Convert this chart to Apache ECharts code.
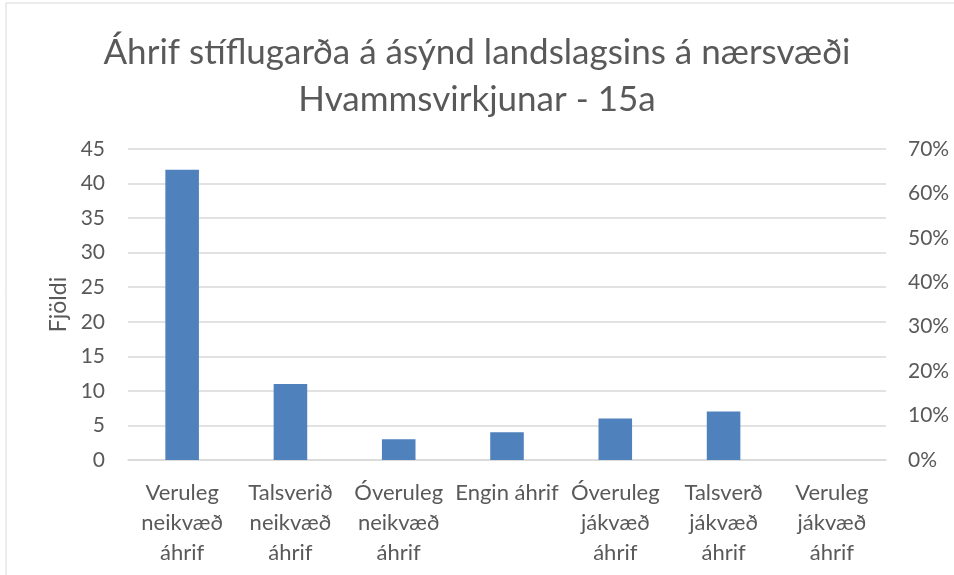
<!DOCTYPE html>
<html><head><meta charset="utf-8">
<script src="https://cdn.jsdelivr.net/npm/echarts@6/dist/echarts.min.js"></script>
<style>html,body{margin:0;padding:0;background:#fff;}#c{width:954px;height:575px;}</style>
</head><body><div id="c"></div>
<script>
const titleText = 'Áhrif stíflugarða á ásýnd landslagsins á nærsvæði\nHvammsvirkjunar - 15a';
const categories = ['Veruleg\nneikvæð\náhrif','Talsverið\nneikvæð\náhrif','Óveruleg\nneikvæð\náhrif','Engin áhrif','Óveruleg\njákvæð\náhrif','Talsverð\njákvæð\náhrif','Veruleg\njákvæð\náhrif'];
const counts = [42, 11, 3, 4, 6, 7, 0];
const yAxisName = 'Fjöldi';
const font = 'Lato';
const chart = echarts.init(document.getElementById('c'));
chart.setOption({
  animation:false,
  backgroundColor:'#fff',
  graphic:[{type:'rect',shape:{x:6,y:3,width:1000,height:1000},style:{fill:'none',stroke:'#d9d9d9',lineWidth:1},silent:true}],
  title:{text:titleText,left:'center',top:24,textStyle:{fontFamily:font,fontSize:35,fontWeight:'normal',color:'#595959',lineHeight:47}},
  grid:{left:128,right:68,top:149,bottom:115},
  xAxis:{type:'category',data:categories,axisTick:{show:false},
    axisLine:{lineStyle:{color:'#d9d9d9',width:1.5}},
    axisLabel:{interval:0,color:'#595959',fontFamily:font,fontSize:22,lineHeight:30,margin:18}},
  yAxis:[
    {type:'value',min:0,max:45,interval:5,name:yAxisName,nameLocation:'middle',nameGap:58,
     nameTextStyle:{color:'#595959',fontFamily:font,fontSize:23},
     axisLabel:{color:'#595959',fontFamily:font,fontSize:21,margin:23},
     splitLine:{lineStyle:{color:'#d9d9d9',width:1.5}},axisLine:{show:false},axisTick:{show:false}},
    {type:'value',min:0,max:0.7,interval:0.1,position:'right',
     axisLabel:{color:'#595959',fontFamily:font,fontSize:21,margin:22,formatter:v=>Math.round(v*100)+'%'},
     splitLine:{show:false},axisLine:{show:false},axisTick:{show:false}}
  ],
  series:[{type:'bar',data:counts,barWidth:'31%',itemStyle:{color:'#4F81BD'},yAxisIndex:0}]
});
</script></body></html>
